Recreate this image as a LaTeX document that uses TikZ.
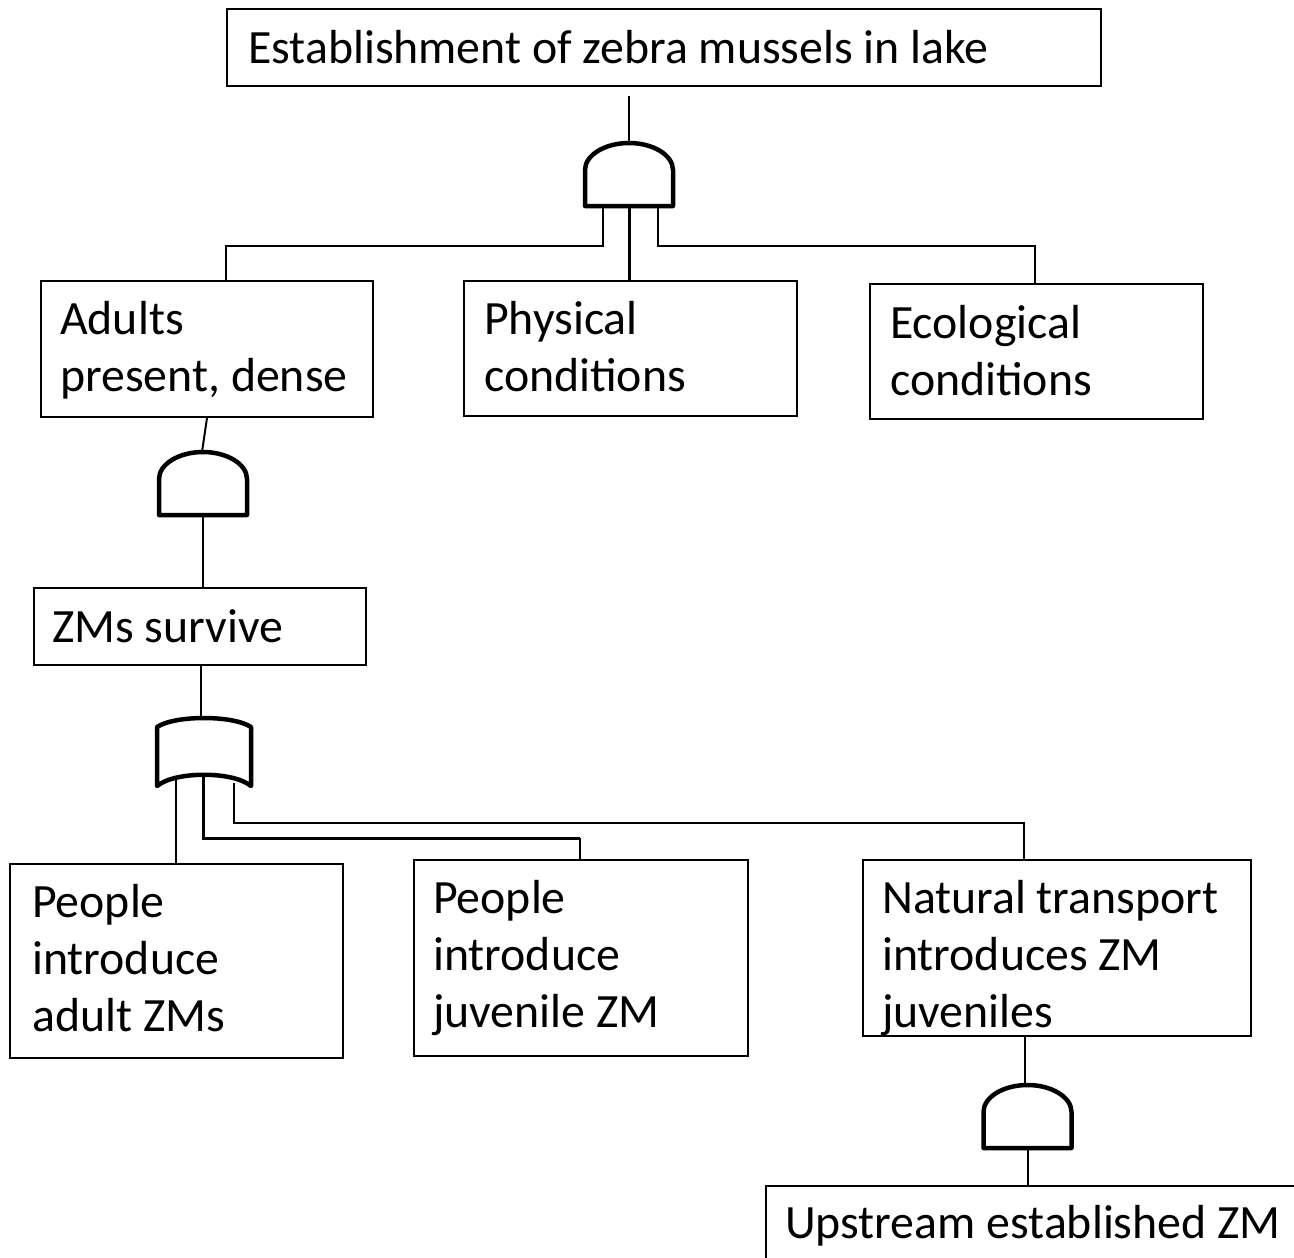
\documentclass[tikz,border=0pt]{standalone}
\usepackage{fontspec}
\setmainfont{Carlito}
\begin{document}
\begin{tikzpicture}[x=1pt,y=-1pt,
  box/.style={draw, line width=2pt, rectangle, inner sep=0pt, anchor=north west},
  lbl/.style={anchor=base west, inner sep=0pt, font=\fontsize{47.8}{57}\selectfont},
  wire/.style={line width=2pt},
  thickwire/.style={line width=3pt},
  gate/.style={line width=4.5pt, line join=round},
  andgate/.pic={\draw[gate] (-44,63) -- (-44,27) .. controls (-44,12) and (-24,0) .. (0,0)
     .. controls (24,0) and (44,12) .. (44,27) -- (44,63) -- cycle;}]
\useasboundingbox (0,0) rectangle (1294,1258);
\clip (0,0) rectangle (1294,1258);

% event boxes
\node[box, minimum width=874, minimum height=77] (top) at (226,8) {};
\node[box, minimum width=332, minimum height=136] (adults) at (40,280) {};
\node[box, minimum width=333, minimum height=135] (phys) at (463,280) {};
\node[box, minimum width=333, minimum height=135] (eco) at (869,283) {};
\node[box, minimum width=332, minimum height=77] (survive) at (33,587) {};
\node[box, minimum width=333, minimum height=194] (padult) at (9,863) {};
\node[box, minimum width=334, minimum height=196] (pjuv) at (413,859) {};
\node[box, minimum width=388, minimum height=176] (natural) at (862,859) {};
\node[box, minimum width=600, minimum height=120] (upstream) at (765,1185) {};

% box texts
\node[lbl] (topT) at (248,63) {Establishment of zebra mussels in lake};
\node[lbl] (adultsT) at (60,334) {\begin{tabular}[t]{@{}l@{}}Adults\\present, dense\end{tabular}};
\node[lbl] (physT) at (484,334) {\begin{tabular}[t]{@{}l@{}}Physical\\conditions\end{tabular}};
\node[lbl] (ecoT) at (890,338) {\begin{tabular}[t]{@{}l@{}}Ecological\\conditions\end{tabular}};
\node[lbl] (surviveT) at (52,642) {ZMs survive};
\node[lbl] (padultT) at (32,917) {\begin{tabular}[t]{@{}l@{}}People\\introduce\\adult ZMs\end{tabular}};
\node[lbl] (pjuvT) at (433,913) {\begin{tabular}[t]{@{}l@{}}People\\introduce\\juvenile ZM\end{tabular}};
\node[lbl] (naturalT) at (882,913) {\begin{tabular}[t]{@{}l@{}}Natural transport\\introduces ZM\\juveniles\end{tabular}};
\node[lbl] (upstreamT) at (785,1238) {Upstream established ZM};

% gates
\pic at (629,143) {andgate};
\pic at (203,452) {andgate};
\pic at (1027.5,1085) {andgate};
\draw[gate] (157,786) -- (157,727) .. controls (175,715) and (233,715) .. (251,727)
  -- (251,786) .. controls (233,771) and (175,771) .. cycle;

% gate terminals and junctions
\coordinate (g1in) at (629,96);
\coordinate (g1top) at (629,143);
\coordinate (g1l) at (603,206);
\coordinate (g1m) at (629,206);
\coordinate (g1r) at (658,206);
\coordinate (j1l) at (226,246);
\coordinate (j1r) at (1035,246);
\coordinate (g2top) at (202,452);
\coordinate (g2bot) at (203,514);
\coordinate (ortop) at (201,716);
\coordinate (o1) at (176,780);
\coordinate (o2) at (203,775);
\coordinate (o3) at (234,783);
\coordinate (j2) at (580,838);
\coordinate (j3) at (1024,823);
\coordinate (g4top) at (1025,1085);
\coordinate (g4bot) at (1028,1147);

% connectors
\draw[wire] (g1in) -- (g1top);
\draw[wire] (g1l) |- (j1l) -- (j1l |- adults.north);
\draw[thickwire] (g1m) -- (g1m |- phys.north);
\draw[wire] (g1r) |- (j1r) -- (j1r |- eco.north);
\draw[wire] (adults.south) -- (g2top);
\draw[wire] (g2bot) -- (g2bot |- survive.north);
\draw[wire] (ortop |- survive.south) -- (ortop);
\draw[wire] (o1) -- (o1 |- padult.north);
\draw[thickwire] (o2) |- (j2);
\draw[wire] (j2) -- (j2 |- pjuv.north);
\draw[wire] (o3) |- (j3) -- (j3 |- natural.north);
\draw[wire] (g4top |- natural.south) -- (g4top);
\draw[wire] (g4bot) -- (g4bot |- upstream.north);
\end{tikzpicture}
\end{document}
